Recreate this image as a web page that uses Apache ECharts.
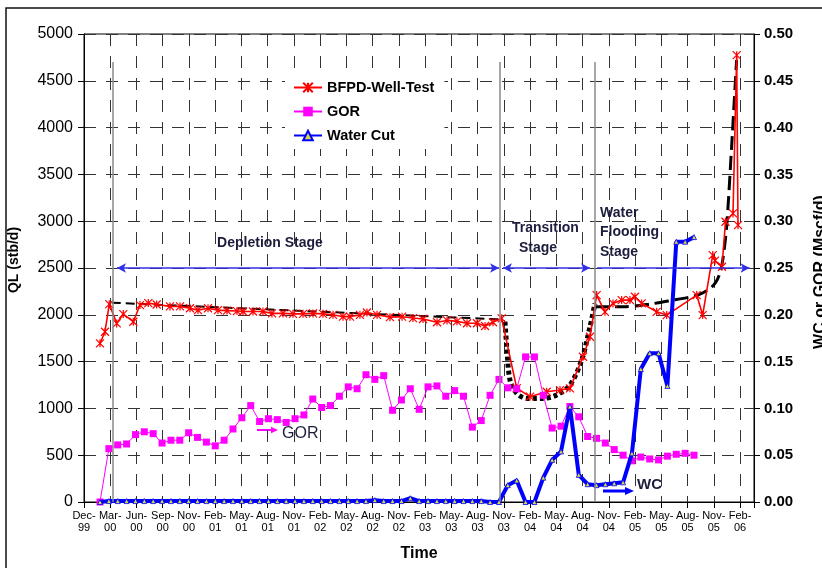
<!DOCTYPE html>
<html>
<head>
<meta charset="utf-8">
<script src="https://cdn.jsdelivr.net/npm/echarts@6.0.0/dist/echarts.min.js"></script>
<style>
  html, body { margin: 0; padding: 0; background: #fff; }
  #chart { width: 822px; height: 568px; }
</style>
</head>
<body>
<div id="chart"></div>
<script>
// ---------------- DATA ----------------
// x positions are in months since Dec-99
const X_TICK_LABELS = ['Dec-99','Mar-00','Jun-00','Sep-00','Nov-00','Feb-01','May-01','Aug-01','Nov-01','Feb-02','May-02','Aug-02','Nov-02','Feb-03','May-03','Aug-03','Nov-03','Feb-04','May-04','Aug-04','Nov-04','Feb-05','May-05','Aug-05','Nov-05','Feb-06'];
const X_TICK_STEP = 3;
const X_MAX = 76.6;

const BFPD_MONTHS = [1.83, 2.4, 2.89, 3.74, 4.49, 5.64, 6.4, 7.35, 8.31, 9.83, 10.98, 12.12, 13.03, 14.18, 15.32, 16.35, 17.49, 18.18, 19.32, 20.46, 21.49, 22.75, 23.89, 25.04, 26.18, 27.32, 28.47, 29.61, 30.41, 31.55, 32.35, 33.5, 34.98, 36.36, 37.61, 38.76, 40.36, 41.5, 42.64, 43.79, 44.93, 45.85, 46.76, 47.75, 49.47, 50.99, 52.9, 54.42, 55.56, 57.05, 57.85, 58.61, 59.56, 60.48, 61.47, 62.42, 62.99, 63.76, 65.47, 66.62, 70.05, 70.73, 71.88, 72.14, 72.94, 73.34, 74.2, 74.62, 74.77];
const BFPD_VALUES = [1695, 1819, 2114, 1908, 2008, 1926, 2104, 2125, 2110, 2090, 2090, 2070, 2050, 2070, 2050, 2045, 2040, 2035, 2035, 2035, 2015, 2015, 2010, 2010, 2015, 2010, 2000, 1980, 1980, 2000, 2025, 2000, 1975, 1980, 1965, 1955, 1920, 1940, 1930, 1910, 1910, 1880, 1920, 1962, 1217, 1125, 1178, 1196, 1214, 1552, 1766, 2211, 2032, 2122, 2157, 2157, 2193, 2122, 2032, 1997, 2211, 1997, 2638, 2578, 2513, 2994, 3083, 4774, 2958];

// GOR and Water Cut share monthly sample dates
const SAMPLE_START = 1.83;
const SAMPLE_STEP = 1.0136;
const GOR_VALUES = [0, 0.057, 0.061, 0.062, 0.072, 0.075, 0.073, 0.063, 0.066, 0.066, 0.074, 0.069, 0.064, 0.060, 0.066, 0.078, 0.090, 0.103, 0.086, 0.089, 0.088, 0.085, 0.089, 0.093, 0.110, 0.101, 0.103, 0.113, 0.123, 0.121, 0.136, 0.131, 0.135, 0.098, 0.109, 0.121, 0.099, 0.123, 0.124, 0.113, 0.119, 0.113, 0.080, 0.087, 0.114, 0.131, 0.122, 0.121, 0.155, 0.155, 0.114, 0.079, 0.081, 0.102, 0.091, 0.070, 0.068, 0.063, 0.056, 0.050, 0.044, 0.048, 0.046, 0.045, 0.049, 0.051, 0.052, 0.050];
const WC_VALUES = [0, 0.001, 0.001, 0.001, 0.001, 0.001, 0.001, 0.001, 0.001, 0.001, 0.001, 0.001, 0.001, 0.001, 0.001, 0.001, 0.001, 0.001, 0.001, 0.001, 0.001, 0.001, 0.001, 0.001, 0.001, 0.001, 0.001, 0.001, 0.001, 0.001, 0.001, 0.002, 0.001, 0.001, 0.001, 0.004, 0.001, 0.001, 0.001, 0.001, 0.001, 0.001, 0.001, 0.001, 0, 0, 0.018, 0.023, 0, 0, 0.026, 0.045, 0.054, 0.102, 0.029, 0.019, 0.018, 0.019, 0.020, 0.021, 0.052, 0.142, 0.159, 0.159, 0.124, 0.278, 0.278, 0.283];

const TREND_DEPLETION_MONTHS = [3.17, 47.56];
const TREND_DEPLETION_VALUES = [2129, 1951];
const TREND_TRANSITION_MONTHS = [48.13, 48.33, 48.7, 49.47, 50.6, 52.5, 54.04, 55.56, 56.9, 57.85, 58.42];
const TREND_TRANSITION_VALUES = [1926, 1659, 1303, 1161, 1107, 1107, 1143, 1250, 1517, 1872, 2122];
const TREND_FLOOD_MONTHS = [58.42, 61.66, 64.71, 67.37, 69.28, 70.42, 71.56, 72.25, 72.71, 73.05, 73.47, 74.04, 74.61];
const TREND_FLOOD_VALUES = [2086, 2086, 2115, 2157, 2190, 2220, 2280, 2350, 2450, 2600, 2940, 3795, 4720];

const STAGE_BOUNDARY_MONTHS = [3.32, 47.56, 58.42];
const STAGE_BOUNDARY_TOP = 4700;
const STAGE_ARROW_LEVEL = 2500;
const STAGE_ARROW_SPANS = [[3.77, 47.45], [47.9, 57.85], [58.65, 76.1]];

// ---------------- CHART ----------------
const FONT = "'Liberation Sans', Arial, sans-serif";
const pairs = (xs, ys) => xs.map((x, i) => [x, ys[i]]);
const samplePairs = (ys) => ys.map((v, i) => [SAMPLE_START + i * SAMPLE_STEP, v]);

const gridDash = { type: [12, 10], color: '#333', width: 1 };

const markLineData = [];
STAGE_BOUNDARY_MONTHS.forEach(m => {
  markLineData.push([
    { coord: [m, 0], symbol: 'none', lineStyle: { color: '#8a8a8a', width: 1.5, type: 'solid' } },
    { coord: [m, STAGE_BOUNDARY_TOP], symbol: 'none' }
  ]);
});
STAGE_ARROW_SPANS.forEach((s, i) => {
  markLineData.push([
    { coord: [s[0], STAGE_ARROW_LEVEL], symbol: i === 2 ? 'none' : 'arrow', symbolSize: [7, 9], lineStyle: { color: '#2f2fe6', width: 1.5, type: 'solid' } },
    { coord: [s[1], STAGE_ARROW_LEVEL], symbol: 'arrow', symbolSize: [7, 9] }
  ]);
});

function arrow(x1, x2, y, color, width, head) {
  return {
    type: 'group',
    children: [
      { type: 'line', shape: { x1: x1, y1: y, x2: x2 - head, y2: y }, style: { stroke: color, lineWidth: width } },
      { type: 'polygon', shape: { points: [[x2, y], [x2 - head, y - head * 0.45], [x2 - head, y + head * 0.45]] }, style: { fill: color } }
    ]
  };
}

const annoColor = '#1c1c3c';
const chart = echarts.init(document.getElementById('chart'), null, { renderer: 'canvas' });
chart.setOption({
  backgroundColor: '#fff',
  animation: false,
  textStyle: { fontFamily: FONT },
  grid: { left: 84, right: 68, top: 34, bottom: 66, show: true, borderColor: '#000', borderWidth: 1 },
  legend: {
    data: ['BFPD-Well-Test', 'GOR', 'Water Cut'],
    orient: 'vertical',
    left: 285, top: 74,
    padding: [6, 10, 6, 8],
    backgroundColor: '#fff',
    itemWidth: 28, itemHeight: 12, itemGap: 9,
    textStyle: { fontFamily: FONT, fontSize: 14.5, fontWeight: 'bold', color: '#000', lineHeight: 14 }
  },
  xAxis: {
    type: 'value', min: 0, max: X_MAX, interval: X_TICK_STEP,
    axisLine: { show: true, lineStyle: { color: '#000', width: 1 } },
    axisTick: { show: true, inside: false, length: 6, lineStyle: { color: '#000' } },
    axisLabel: {
      fontFamily: FONT, fontSize: 11, lineHeight: 12, color: '#000', margin: 8,
      showMaxLabel: true, showMinLabel: true,
      formatter: function (v) {
        const k = Math.round(v / X_TICK_STEP);
        if (Math.abs(v - k * X_TICK_STEP) > 1e-6 || k >= X_TICK_LABELS.length) return '';
        return X_TICK_LABELS[k].replace('-', '-\n');
      }
    },
    splitLine: { show: true, lineStyle: gridDash }
  },
  yAxis: [
    {
      type: 'value', min: 0, max: 5000, interval: 500, position: 'left',
      axisLine: { show: true, lineStyle: { color: '#000', width: 1 } },
      axisTick: { show: true, inside: false, length: 6, lineStyle: { color: '#000' } },
      axisLabel: { fontFamily: FONT, fontSize: 16, color: '#000', margin: 11, formatter: v => String(Math.round(v)) },
      splitLine: { show: true, lineStyle: gridDash }
    },
    {
      type: 'value', min: 0, max: 0.5, interval: 0.05, position: 'right',
      axisLine: { show: true, lineStyle: { color: '#000', width: 1 } },
      axisTick: { show: true, inside: false, length: 6, lineStyle: { color: '#000' } },
      axisLabel: { fontFamily: FONT, fontSize: 15, fontWeight: 'bold', color: '#000', margin: 10,
        formatter: v => v.toFixed(2) },
      splitLine: { show: false }
    }
  ],
  series: [
    {
      name: 'Depletion trend', type: 'line', yAxisIndex: 0, z: 2,
      data: pairs(TREND_DEPLETION_MONTHS, TREND_DEPLETION_VALUES),
      symbol: 'none', silent: true,
      lineStyle: { color: '#000', width: 2, type: [9, 5] },
      markLine: { silent: true, animation: false, label: { show: false }, emphasis: { disabled: true }, data: markLineData }
    },
    {
      name: 'Transition trend', type: 'line', yAxisIndex: 0, z: 2, smooth: 0.3,
      data: pairs(TREND_TRANSITION_MONTHS, TREND_TRANSITION_VALUES),
      symbol: 'none', silent: true,
      lineStyle: { color: '#000', width: 5, type: [4, 3] }
    },
    {
      name: 'Flood trend', type: 'line', yAxisIndex: 0, z: 2, smooth: 0.3,
      data: pairs(TREND_FLOOD_MONTHS, TREND_FLOOD_VALUES),
      symbol: 'none', silent: true,
      lineStyle: { color: '#000', width: 3, type: [14, 6] }
    },
    {
      name: 'BFPD-Well-Test', type: 'line', yAxisIndex: 0, z: 3,
      data: pairs(BFPD_MONTHS, BFPD_VALUES),
      symbol: 'path://M0,0L10,10M10,0L0,10M5,0L5,10', symbolSize: 8,
      lineStyle: { color: '#ff0000', width: 1.6 },
      itemStyle: { color: '#ff0000', borderColor: '#ff0000', borderWidth: 1.2 }
    },
    {
      name: 'GOR', type: 'line', yAxisIndex: 1, z: 3,
      data: samplePairs(GOR_VALUES),
      symbol: 'rect', symbolSize: 7,
      lineStyle: { color: '#ff00ff', width: 1 },
      itemStyle: { color: '#ff00ff' }
    },
    {
      name: 'Water Cut', type: 'line', yAxisIndex: 1, z: 4,
      data: samplePairs(WC_VALUES),
      symbol: 'triangle', symbolSize: 5,
      lineStyle: { color: '#0000ff', width: 4 },
      itemStyle: { color: '#d8d840', borderColor: '#0000ff', borderWidth: 0.8 }
    }
  ],
  graphic: [
    { type: 'rect', z: 100, shape: { x: 6, y: 8, width: 840, height: 600 }, style: { fill: 'none', stroke: '#111', lineWidth: 1.5 } },
    { type: 'text', x: 14, y: 260, rotation: Math.PI / 2, style: { text: 'QL (stb/d)', font: 'bold 14px ' + FONT, fill: '#000', align: 'center', verticalAlign: 'middle' } },
    { type: 'text', x: 821, y: 272, rotation: Math.PI / 2, style: { text: 'WC or GOR (Mscf/d)', font: 'bold 16px ' + FONT, fill: '#000', align: 'center', verticalAlign: 'middle' } },
    { type: 'text', x: 419, y: 554, style: { text: 'Time', font: 'bold 16px ' + FONT, fill: '#000', align: 'center', verticalAlign: 'middle' } },
    { type: 'text', x: 270, y: 243, z: 50, style: { text: 'Depletion Stage', font: 'bold 14px ' + FONT, fill: annoColor, align: 'center', verticalAlign: 'middle' } },
    { type: 'text', x: 512, y: 228, z: 50, style: { text: 'Transition', font: 'bold 14px ' + FONT, fill: annoColor, align: 'left', verticalAlign: 'middle' } },
    { type: 'text', x: 519, y: 248, z: 50, style: { text: 'Stage', font: 'bold 14px ' + FONT, fill: annoColor, align: 'left', verticalAlign: 'middle' } },
    { type: 'text', x: 600, y: 213, z: 50, style: { text: 'Water', font: 'bold 14px ' + FONT, fill: annoColor, align: 'left', verticalAlign: 'middle' } },
    { type: 'text', x: 600, y: 232, z: 50, style: { text: 'Flooding', font: 'bold 14px ' + FONT, fill: annoColor, align: 'left', verticalAlign: 'middle' } },
    { type: 'text', x: 600, y: 252, z: 50, style: { text: 'Stage', font: 'bold 14px ' + FONT, fill: annoColor, align: 'left', verticalAlign: 'middle' } },
    Object.assign(arrow(257, 278, 430, '#ff00ff', 2, 7), { z: 50 }),
    { type: 'text', x: 282, y: 434, z: 50, style: { text: 'GOR', font: '16px ' + FONT, fill: annoColor, align: 'left', verticalAlign: 'middle' } },
    Object.assign(arrow(603, 634, 491, '#0000ff', 3, 9), { z: 50 }),
    { type: 'text', x: 637, y: 485, z: 50, style: { text: 'WC', font: 'bold 15px ' + FONT, fill: annoColor, align: 'left', verticalAlign: 'middle' } }
  ]
});
</script>
</body>
</html>
